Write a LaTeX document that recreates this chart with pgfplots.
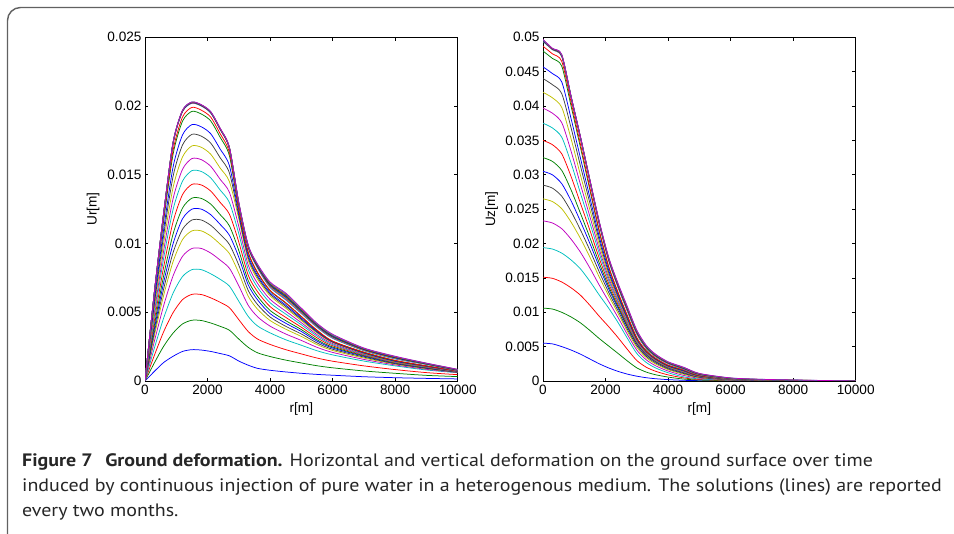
\documentclass[border=0pt]{standalone}
\usepackage{fontspec}
\setmainfont{Liberation Sans}
\newfontfamily\capfont[FakeStretch=1.11]{PT Sans}
\usepackage{pgfplots}
\usepackage{pgfplotstable}
\pgfplotsset{compat=1.18}

% MATLAB default line colours
\definecolor{mblue}{rgb}{0,0,1}
\definecolor{mgreen}{rgb}{0,0.5,0}
\definecolor{mred}{rgb}{1,0,0}
\definecolor{mcyan}{rgb}{0,0.75,0.75}
\definecolor{mmagenta}{rgb}{0.75,0,0.75}
\definecolor{myellow}{rgb}{0.75,0.75,0}
\definecolor{mgray}{rgb}{0.25,0.25,0.25}

% Ur[m], one column per two-month step
\pgfplotstableread[row sep=\\]{
r c1 c2 c3 c4 c5 c6 c7 c8 c9 c10 c11 c12 c13 c14 c15 c16 c17 c18 c19 c20 c21 c22 c23 c24 c25 c26\\
0 0 0 0 0 0 0 0 0 0 0 0 0 0 0 0 0 0 0 0 0 0 0 0 0 0 0\\
300 0.00070 0.00132 0.00187 0.00240 0.00289 0.00330 0.00355 0.00380 0.00406 0.00439 0.00471 0.00500 0.00530 0.00560 0.00585 0.00620 0.00630 0.00640 0.00641 0.00643 0.00644 0.00645 0.00646 0.00648 0.00649 0.00650\\
600 0.00135 0.00254 0.00360 0.00460 0.00551 0.00626 0.00673 0.00720 0.00770 0.00833 0.00897 0.00952 0.01010 0.01064 0.01109 0.01171 0.01190 0.01220 0.01221 0.01223 0.01224 0.01225 0.01226 0.01228 0.01229 0.01230\\
900 0.00180 0.00349 0.00498 0.00640 0.00766 0.00870 0.00935 0.01000 0.01071 0.01160 0.01250 0.01328 0.01410 0.01491 0.01559 0.01652 0.01680 0.01730 0.01731 0.01733 0.01734 0.01735 0.01736 0.01738 0.01739 0.01740\\
1200 0.00215 0.00415 0.00592 0.00760 0.00907 0.01029 0.01104 0.01180 0.01258 0.01356 0.01454 0.01540 0.01630 0.01717 0.01790 0.01890 0.01920 0.01960 0.01961 0.01963 0.01964 0.01965 0.01966 0.01968 0.01969 0.01970\\
1500 0.00228 0.00442 0.00630 0.00810 0.00964 0.01092 0.01171 0.01250 0.01330 0.01430 0.01530 0.01618 0.01710 0.01794 0.01865 0.01961 0.01990 0.02020 0.02021 0.02023 0.02024 0.02025 0.02026 0.02028 0.02029 0.02030\\
1800 0.00225 0.00440 0.00629 0.00810 0.00964 0.01092 0.01171 0.01250 0.01328 0.01426 0.01524 0.01610 0.01700 0.01781 0.01849 0.01942 0.01970 0.02000 0.02001 0.02003 0.02004 0.02005 0.02006 0.02008 0.02009 0.02010\\
2100 0.00215 0.00422 0.00605 0.00780 0.00931 0.01055 0.01133 0.01210 0.01287 0.01382 0.01478 0.01562 0.01650 0.01731 0.01799 0.01892 0.01920 0.01950 0.01951 0.01953 0.01954 0.01955 0.01956 0.01958 0.01959 0.01960\\
2400 0.00200 0.00398 0.00573 0.00740 0.00880 0.00996 0.01068 0.01140 0.01211 0.01300 0.01390 0.01468 0.01550 0.01625 0.01688 0.01774 0.01800 0.01830 0.01831 0.01833 0.01834 0.01835 0.01836 0.01838 0.01839 0.01840\\
2700 0.00183 0.00369 0.00533 0.00690 0.00820 0.00927 0.00993 0.01060 0.01128 0.01213 0.01298 0.01372 0.01450 0.01513 0.01566 0.01638 0.01660 0.01690 0.01691 0.01693 0.01694 0.01695 0.01696 0.01698 0.01699 0.01700\\
3000 0.00145 0.00305 0.00446 0.00580 0.00692 0.00785 0.00842 0.00900 0.00949 0.01010 0.01071 0.01124 0.01180 0.01201 0.01219 0.01243 0.01250 0.01280 0.01283 0.01285 0.01288 0.01290 0.01293 0.01295 0.01298 0.01300\\
3300 0.00115 0.00245 0.00360 0.00470 0.00551 0.00617 0.00659 0.00700 0.00731 0.00770 0.00810 0.00844 0.00880 0.00898 0.00913 0.00934 0.00940 0.00970 0.00973 0.00975 0.00978 0.00980 0.00983 0.00985 0.00988 0.00990\\
3600 0.00092 0.00205 0.00305 0.00400 0.00467 0.00522 0.00556 0.00590 0.00616 0.00649 0.00681 0.00710 0.00740 0.00755 0.00768 0.00785 0.00790 0.00820 0.00824 0.00828 0.00831 0.00835 0.00839 0.00843 0.00846 0.00850\\
4000 0.00078 0.00178 0.00266 0.00350 0.00399 0.00440 0.00465 0.00490 0.00513 0.00541 0.00569 0.00594 0.00620 0.00632 0.00642 0.00656 0.00660 0.00680 0.00685 0.00690 0.00695 0.00700 0.00705 0.00710 0.00715 0.00720\\
4500 0.00066 0.00152 0.00228 0.00300 0.00342 0.00377 0.00398 0.00420 0.00439 0.00463 0.00487 0.00508 0.00530 0.00542 0.00552 0.00566 0.00570 0.00590 0.00596 0.00603 0.00609 0.00615 0.00621 0.00628 0.00634 0.00640\\
5000 0.00056 0.00131 0.00197 0.00260 0.00295 0.00324 0.00342 0.00360 0.00374 0.00391 0.00409 0.00424 0.00440 0.00449 0.00457 0.00467 0.00470 0.00490 0.00495 0.00500 0.00505 0.00510 0.00515 0.00520 0.00525 0.00530\\
5500 0.00048 0.00111 0.00167 0.00220 0.00245 0.00265 0.00277 0.00290 0.00300 0.00314 0.00327 0.00338 0.00350 0.00356 0.00361 0.00368 0.00370 0.00390 0.00394 0.00398 0.00401 0.00405 0.00409 0.00413 0.00416 0.00420\\
6000 0.00042 0.00096 0.00144 0.00190 0.00208 0.00222 0.00231 0.00240 0.00247 0.00256 0.00264 0.00272 0.00280 0.00283 0.00286 0.00289 0.00290 0.00310 0.00314 0.00318 0.00321 0.00325 0.00329 0.00333 0.00336 0.00340\\
7000 0.00031 0.00073 0.00110 0.00145 0.00157 0.00167 0.00174 0.00180 0.00184 0.00188 0.00192 0.00196 0.00200 0.00203 0.00206 0.00209 0.00210 0.00220 0.00223 0.00225 0.00228 0.00230 0.00233 0.00235 0.00238 0.00240\\
8000 0.00024 0.00056 0.00083 0.00110 0.00117 0.00123 0.00126 0.00130 0.00132 0.00134 0.00136 0.00138 0.00140 0.00143 0.00146 0.00149 0.00150 0.00160 0.00163 0.00165 0.00168 0.00170 0.00173 0.00175 0.00178 0.00180\\
9000 0.00019 0.00041 0.00061 0.00080 0.00085 0.00090 0.00092 0.00095 0.00097 0.00099 0.00101 0.00103 0.00105 0.00107 0.00108 0.00110 0.00110 0.00120 0.00121 0.00123 0.00124 0.00125 0.00126 0.00128 0.00129 0.00130\\
10000 0.00015 0.00032 0.00046 0.00060 0.00062 0.00063 0.00064 0.00065 0.00066 0.00067 0.00068 0.00069 0.00070 0.00071 0.00071 0.00072 0.00072 0.00075 0.00076 0.00078 0.00079 0.00080 0.00081 0.00083 0.00084 0.00085\\
}\urtab

% Uz[m], same steps
\pgfplotstableread[row sep=\\]{
r c1 c2 c3 c4 c5 c6 c7 c8 c9 c10 c11 c12 c13 c14 c15 c16 c17 c18 c19 c20 c21 c22 c23 c24 c25 c26\\
0 0.00550 0.01060 0.01510 0.01940 0.02330 0.02650 0.02850 0.03050 0.03250 0.03500 0.03750 0.03970 0.04200 0.04400 0.04570 0.04800 0.04870 0.04940 0.04944 0.04948 0.04951 0.04955 0.04959 0.04962 0.04966 0.04970\\
300 0.00540 0.01047 0.01494 0.01920 0.02299 0.02611 0.02806 0.03000 0.03195 0.03438 0.03682 0.03896 0.04120 0.04311 0.04473 0.04693 0.04760 0.04820 0.04822 0.04825 0.04828 0.04830 0.04832 0.04835 0.04838 0.04840\\
600 0.00500 0.00999 0.01440 0.01860 0.02215 0.02506 0.02688 0.02870 0.03063 0.03304 0.03546 0.03758 0.03980 0.04180 0.04350 0.04580 0.04650 0.04720 0.04724 0.04728 0.04731 0.04735 0.04739 0.04742 0.04746 0.04750\\
900 0.00450 0.00931 0.01355 0.01760 0.02062 0.02310 0.02465 0.02620 0.02777 0.02972 0.03168 0.03340 0.03520 0.03679 0.03813 0.03995 0.04050 0.04120 0.04122 0.04125 0.04128 0.04130 0.04132 0.04135 0.04138 0.04140\\
1200 0.00390 0.00845 0.01247 0.01630 0.01872 0.02072 0.02196 0.02320 0.02437 0.02582 0.02728 0.02856 0.02990 0.03125 0.03238 0.03393 0.03440 0.03530 0.03532 0.03535 0.03538 0.03540 0.03542 0.03545 0.03548 0.03550\\
1500 0.00320 0.00735 0.01101 0.01450 0.01643 0.01802 0.01901 0.02000 0.02085 0.02192 0.02298 0.02392 0.02490 0.02586 0.02667 0.02777 0.02810 0.02900 0.02904 0.02908 0.02911 0.02915 0.02919 0.02922 0.02926 0.02930\\
1800 0.00250 0.00617 0.00941 0.01250 0.01394 0.01512 0.01586 0.01660 0.01716 0.01785 0.01855 0.01916 0.01980 0.02043 0.02096 0.02168 0.02190 0.02280 0.02285 0.02290 0.02295 0.02300 0.02305 0.02310 0.02315 0.02320\\
2100 0.00190 0.00509 0.00791 0.01060 0.01158 0.01239 0.01290 0.01340 0.01375 0.01418 0.01462 0.01500 0.01540 0.01579 0.01612 0.01657 0.01670 0.01750 0.01756 0.01762 0.01769 0.01775 0.01781 0.01788 0.01794 0.01800\\
2400 0.00140 0.00401 0.00631 0.00850 0.00924 0.00984 0.01022 0.01060 0.01084 0.01115 0.01145 0.01172 0.01200 0.01227 0.01250 0.01281 0.01290 0.01360 0.01367 0.01375 0.01382 0.01390 0.01398 0.01405 0.01412 0.01420\\
2700 0.00100 0.00291 0.00459 0.00620 0.00676 0.00722 0.00751 0.00780 0.00797 0.00819 0.00841 0.00860 0.00880 0.00901 0.00919 0.00943 0.00950 0.01010 0.01019 0.01028 0.01036 0.01045 0.01054 0.01062 0.01071 0.01080\\
3000 0.00070 0.00191 0.00298 0.00400 0.00449 0.00490 0.00515 0.00540 0.00549 0.00560 0.00570 0.00580 0.00590 0.00602 0.00612 0.00626 0.00630 0.00680 0.00687 0.00695 0.00702 0.00710 0.00718 0.00725 0.00732 0.00740\\
3300 0.00048 0.00130 0.00201 0.00270 0.00309 0.00340 0.00360 0.00380 0.00387 0.00396 0.00404 0.00412 0.00420 0.00426 0.00431 0.00438 0.00440 0.00470 0.00476 0.00482 0.00489 0.00495 0.00501 0.00508 0.00514 0.00520\\
3600 0.00033 0.00091 0.00142 0.00190 0.00222 0.00248 0.00264 0.00280 0.00285 0.00292 0.00298 0.00304 0.00310 0.00316 0.00321 0.00328 0.00330 0.00350 0.00355 0.00360 0.00365 0.00370 0.00375 0.00380 0.00385 0.00390\\
4000 0.00020 0.00057 0.00089 0.00120 0.00145 0.00165 0.00177 0.00190 0.00194 0.00198 0.00202 0.00206 0.00210 0.00216 0.00221 0.00228 0.00230 0.00250 0.00254 0.00258 0.00261 0.00265 0.00269 0.00272 0.00276 0.00280\\
4500 0.00010 0.00028 0.00045 0.00060 0.00081 0.00098 0.00109 0.00120 0.00124 0.00128 0.00132 0.00136 0.00140 0.00146 0.00151 0.00158 0.00160 0.00170 0.00174 0.00178 0.00181 0.00185 0.00189 0.00192 0.00196 0.00200\\
5000 0.00005 0.00014 0.00022 0.00030 0.00041 0.00049 0.00055 0.00060 0.00062 0.00064 0.00066 0.00068 0.00070 0.00073 0.00076 0.00079 0.00080 0.00090 0.00092 0.00095 0.00097 0.00100 0.00102 0.00105 0.00108 0.00110\\
6000 0.00002 0.00005 0.00008 0.00010 0.00014 0.00016 0.00018 0.00020 0.00021 0.00022 0.00023 0.00024 0.00025 0.00026 0.00027 0.00028 0.00028 0.00030 0.00032 0.00034 0.00036 0.00038 0.00039 0.00041 0.00043 0.00045\\
7000 0.00001 0.00003 0.00004 0.00005 0.00007 0.00008 0.00009 0.00010 0.00010 0.00011 0.00011 0.00012 0.00012 0.00013 0.00013 0.00014 0.00014 0.00015 0.00016 0.00017 0.00019 0.00020 0.00021 0.00022 0.00024 0.00025\\
8000 0 0.00001 0.00001 0.00002 0.00003 0.00003 0.00004 0.00004 0.00004 0.00004 0.00005 0.00005 0.00005 0.00005 0.00006 0.00006 0.00006 0.00007 0.00008 0.00009 0.00010 0.00011 0.00012 0.00013 0.00014 0.00015\\
10000 0 0 0 0 0 0 0 0 0 0 0 0 0 0 0 0 0 0 0 0 0 0 0 0 0 0\\
}\uztab

\pgfplotsset{
  /pgf/number format/assume math mode=true,
  panel/.style={
    scale only axis, width=312.7pt, height=343.7pt,
    anchor=south west,
    xmin=0, xmax=10000, ymin=0, enlargelimits=false,
    xtick={0,2000,...,10000},
    scaled ticks=false,
    xticklabel style={/pgf/number format/1000 sep={}},
    yticklabel style={/pgf/number format/fixed, /pgf/number format/precision=3},
    tick align=inside, major tick length=3.4pt,
    every tick/.style={black, line width=0.7pt},
    axis line style={line width=0.9pt},
    tick label style={font=\fontsize{13.6}{16}\selectfont},
    label style={font=\fontsize{13.6}{16}\selectfont},
    xlabel={r[m]},
    xlabel style={at={(axis description cs:0.5,-0.082)}, anchor=center},
    cycle list={mblue\\mgreen\\mred\\mcyan\\mmagenta\\myellow\\mgray\\},
    every axis plot/.append style={line width=0.75pt, no markers, smooth, tension=0.45},
  }
}

\begin{document}
\begin{tikzpicture}
\useasboundingbox (0pt,0pt) rectangle (954pt,-534pt);
\draw[black!62, line width=1.4pt, rounded corners=13pt] (7.5pt,-545pt) -- (7.5pt,-7.5pt) -- (965pt,-7.5pt);

\begin{axis}[panel, at={(145pt,-381pt)},
  ymax=0.025, ytick={0,0.005,0.01,0.015,0.02,0.025},
  ylabel={Ur[m]},
  ylabel style={at={(axis description cs:-0.166,0.5)}, anchor=center}]
\pgfplotsinvokeforeach{1,...,26}{\addplot table[x=r, y=c#1] {\urtab};}
\end{axis}

\begin{axis}[panel, at={(543pt,-381pt)},
  ymax=0.05, ytick={0,0.005,0.01,0.015,0.02,0.025,0.03,0.035,0.04,0.045,0.05},
  ylabel={Uz[m]},
  ylabel style={at={(axis description cs:-0.164,0.5)}, anchor=center}]
\pgfplotsinvokeforeach{1,...,26}{\addplot table[x=r, y=c#1] {\uztab};}
\end{axis}

\begin{scope}[every node/.style={anchor=base west, inner sep=0pt, text=black!85,
    font=\capfont\fontsize{18}{21}\selectfont}]
\node at (22pt,-467pt) {\textbf{Figure 7\hspace{0.7em}Ground deformation.} Horizontal and vertical deformation on the ground surface over time};
\node at (22pt,-492pt) {induced by continuous injection of pure water in a heterogenous medium. The solutions (lines) are reported};
\node at (22pt,-517pt) {every two months.};
\end{scope}
\end{tikzpicture}
\end{document}
